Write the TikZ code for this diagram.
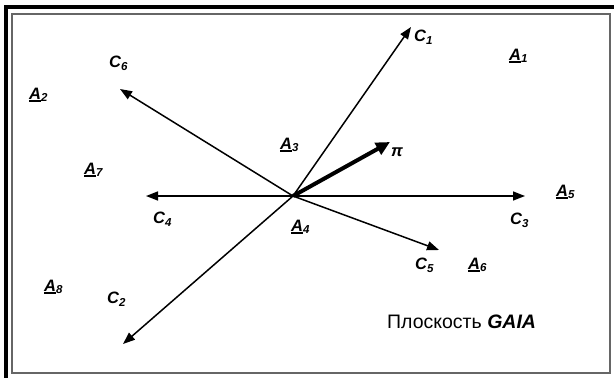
\documentclass[tikz,border=0pt]{standalone}
\usepackage{fontspec}
\setmainfont{Liberation Sans}
\usetikzlibrary{arrows.meta}
\newcommand{\ulA}{\setbox0\hbox{\bfseries\itshape A}\rlap{\rule[-3pt]{\wd0}{2pt}}\box0}
\newcommand{\albl}[1]{\ulA{\bfseries\itshape\raisebox{-2.5pt}{\fontsize{11.5}{11.5}\selectfont #1}}}
\newcommand{\clbl}[1]{{\bfseries\itshape C\raisebox{-3pt}{\fontsize{11.5}{11.5}\selectfont #1}}}
\begin{document}
\begin{tikzpicture}[x=1pt,y=-1pt,
  lbl/.style={inner sep=0pt,anchor=base west,font=\fontsize{16.5}{16.5}\selectfont},
  vec/.style={line width=1.5pt,-{Triangle[length=12pt,width=9pt]}},
  bigvec/.style={line width=4pt,-{Triangle[length=14pt,width=13pt]}}]
\useasboundingbox (0,0) rectangle (614,378);
% frame
\draw[line width=1.2pt,draw=black!60] (12,14) rectangle (610,373);
\fill (4,5) rectangle (614,9);
\fill (4,5) rectangle (8,378);
% coordinates
\coordinate (O) at (293,196);
\coordinate (t1) at (411,27);
\coordinate (t2) at (123,344);
\coordinate (t3) at (525,196);
\coordinate (t4) at (146,196);
\coordinate (t5) at (439,250);
\coordinate (t6) at (120,89);
\coordinate (tp) at (390,142);
% vectors
\draw[vec] (O) -- (t1);
\draw[vec] (O) -- (t2);
\draw[vec] (O) -- (t3);
\draw[vec] (O) -- (t4);
\draw[vec] (O) -- (t5);
\draw[vec] (O) -- (t6);
\draw[bigvec] (O) -- (tp);
% C labels
\node[lbl] (c1) at (414,41) {\clbl{1}};
\node[lbl] (c2) at (107,303) {\clbl{2}};
\node[lbl] (c3) at (510,224) {\clbl{3}};
\node[lbl] (c4) at (153,223) {\clbl{4}};
\node[lbl] (c5) at (415,269) {\clbl{5}};
\node[lbl] (c6) at (109,67) {\clbl{6}};
\node[lbl] (pi) at (391,156) {\bfseries\itshape π};
% A labels
\node[lbl] (a1) at (509,60) {\albl{1}};
\node[lbl] (a2) at (29,99) {\albl{2}};
\node[lbl] (a3) at (280,149) {\albl{3}};
\node[lbl] (a4) at (291,231) {\albl{4}};
\node[lbl] (a5) at (556,196) {\albl{5}};
\node[lbl] (a6) at (468,269) {\albl{6}};
\node[lbl] (a7) at (84,174) {\albl{7}};
\node[lbl] (a8) at (44,291) {\albl{8}};
% caption
\node[lbl,font=\fontsize{19.5}{19.5}\selectfont] (cap) at (387,328) {Плоскость \textbf{\textit{GAIA}}};
\end{tikzpicture}
\end{document}
